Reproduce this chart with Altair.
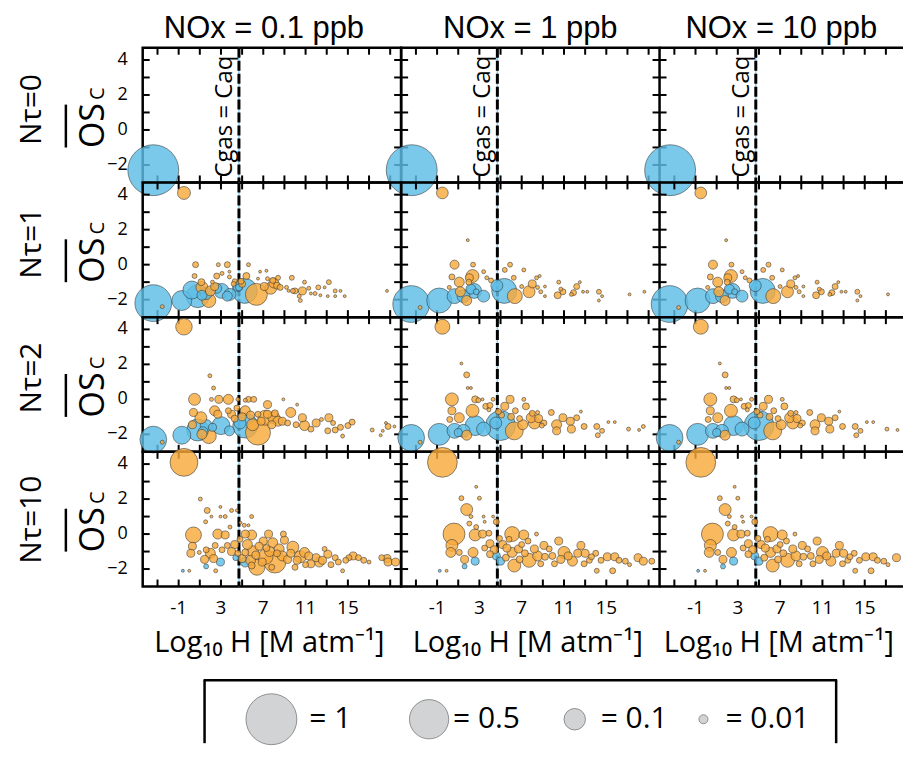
import altair as alt
import pandas as pd

# ---------------- data ----------------
NOX_TITLES = ["NOx = 0.1 ppb", "NOx = 1 ppb", "NOx = 10 ppb"]
NTAU_LABELS = ["Nτ=0", "Nτ=1", "Nτ=2", "Nτ=10"]
X_TICKS = [-3, -1, 1, 3, 5, 7, 9, 11, 13, 15, 17, 19]
X_TICK_LABELS = [-1, 3, 7, 11, 15]
Y_TICKS = [-2, -1, 0, 1, 2, 3, 4]
Y_TICK_LABELS = [-2, 0, 2, 4]
CGAS_EQ_CAQ = [4.7]
LEGEND_VALUES = [1, 0.5, 0.1, 0.01]
LEGEND_LABELS = ["= 1", "= 0.5", "= 0.1", "= 0.01"]
X_TITLE = "Log₁₀ H [M atm⁻¹]"

# (log10 H, OSc, carbon fraction)
R1_BLUE = [(-3.4, -2.3, 1.0)]
R1_ORANGE = []

R2A_BLUE = [(-3.4, -2.2, 0.42), (-0.7, -2.05, 0.082), (0.8, -1.8, 0.12), (0.25, -1.45, 0.062),
            (1.6, -1.65, 0.021), (1.2, -1.75, 0.013), (3.05, -1.5, 0.038), (3.85, -1.7, 0.021),
            (3.6, -1.8, 0.013), (4.6, -1.25, 0.013), (4.7, -1.3, 0.005), (5.25, -1.5, 0.15),
            (2.6, -1.35, 0.013)]
R2A_ORANGE = [(-0.5, 4.1, 0.026), (-2.55, -2.4, 0.0011), (1.85, -2.05, 0.032), (1.2, -1.3, 0.021),
              (2.0, -1.5, 0.013), (2.4, -1.25, 0.0072), (1.15, -1.0, 0.005), (0.5, -0.65, 0.002),
              (0.6, 0.0, 0.0033), (2.75, 0.0, 0.0011), (3.6, 0.0, 0.0033), (3.8, -0.4, 0.0005),
              (3.1, -0.5, 0.0011), (2.6, -0.65, 0.0033), (2.2, -1.0, 0.0011), (3.8, -0.7, 0.0011),
              (4.3, -0.95, 0.002), (4.9, -0.95, 0.0033), (5.0, -1.1, 0.005), (4.2, -1.1, 0.002),
              (5.6, 0.0, 0.0011), (5.4, -0.65, 0.005), (6.35, -1.7, 0.106), (6.7, -0.4, 0.0005),
              (7.3, -0.35, 0.0005), (6.5, -0.8, 0.0005), (7.4, -0.8, 0.0011), (7.9, -0.9, 0.0033),
              (8.4, -0.75, 0.002), (8.0, -1.05, 0.013), (7.7, -1.35, 0.021), (7.1, -1.25, 0.0072),
              (8.3, -1.2, 0.005), (8.6, -1.3, 0.0033), (9.2, -1.3, 0.0011), (9.7, -0.75, 0.002),
              (9.4, -1.5, 0.0005), (9.8, -1.5, 0.002), (10.0, -1.5, 0.0033), (10.7, -1.5, 0.0072),
              (10.9, -1.0, 0.0011), (10.4, -1.8, 0.0011), (10.5, -2.05, 0.0011), (11.3, -1.35, 0.0011),
              (11.5, -1.65, 0.0005), (11.9, -1.65, 0.0011), (12.2, -1.3, 0.002), (12.4, -1.75, 0.0005),
              (12.8, -1.3, 0.0005), (13.1, -1.8, 0.0005), (13.2, -1.0, 0.002), (13.8, -1.5, 0.0011),
              (13.8, -1.8, 0.0005), (14.3, -1.5, 0.0005), (14.7, -1.8, 0.0005), (18.7, -1.5, 0.0005)]

R2B_BLUE = [(-3.45, -2.25, 0.42), (-0.8, -2.05, 0.15), (0.65, -1.8, 0.038), (1.5, -1.8, 0.026),
            (2.5, -1.5, 0.038), (2.2, -1.4, 0.013), (3.4, -1.8, 0.021), (2.7, -1.55, 0.0033),
            (4.65, -1.2, 0.021), (5.35, -1.5, 0.15)]
R2B_ORANGE = [(-0.5, 4.1, 0.02), (-2.6, -2.45, 0.0011), (1.8, -2.05, 0.013), (0.65, 0.0, 0.01),
              (1.9, 1.4, 0.0005), (0.4, -0.7, 0.0033), (1.1, -1.0, 0.013), (0.15, -1.3, 0.0011),
              (1.2, -1.55, 0.013), (2.4, 0.0, 0.002), (2.35, -0.65, 0.026), (2.05, -0.75, 0.0072),
              (2.0, -1.0, 0.0033), (3.4, -0.4, 0.0011), (3.7, -0.75, 0.0011), (4.1, -0.9, 0.002),
              (5.4, -0.3, 0.002), (5.9, 0.0, 0.002), (6.25, -0.75, 0.002), (6.35, -1.8, 0.038),
              (7.2, -0.3, 0.0011), (7.0, -1.25, 0.0011), (7.7, -1.55, 0.021), (8.0, -1.1, 0.0072),
              (8.4, -0.75, 0.0011), (8.7, -0.65, 0.0005), (8.5, -1.3, 0.0011), (8.8, -1.55, 0.0011),
              (9.2, -1.8, 0.0005), (9.2, -1.25, 0.0005), (10.5, -1.0, 0.0011), (10.7, -1.4, 0.0011),
              (10.9, -1.55, 0.0033), (10.4, -1.75, 0.005), (11.7, -1.7, 0.0011), (11.9, -1.6, 0.0033),
              (12.2, -1.25, 0.0033), (12.5, -1.0, 0.0005), (12.8, -1.55, 0.0005), (13.2, -1.55, 0.0005),
              (14.3, -1.55, 0.002), (14.6, -1.8, 0.0005), (14.3, -2.05, 0.0005), (17.2, -1.7, 0.0005),
              (18.6, -1.55, 0.0005)]

R3A_BLUE = [(-3.4, -2.3, 0.18), (-0.7, -2.05, 0.062), (0.8, -1.75, 0.106), (1.3, -1.85, 0.013),
            (1.6, -1.5, 0.021), (3.0, -1.5, 0.062), (3.8, -1.8, 0.013), (4.8, -1.35, 0.021),
            (5.3, -1.5, 0.15), (2.2, -1.6, 0.0072)]
R3A_ORANGE = [(-0.5, 4.15, 0.05), (-2.55, -2.45, 0.0011), (1.85, -2.1, 0.038), (1.2, -2.0, 0.013),
              (0.5, 0.0, 0.021), (1.95, 1.35, 0.0011), (2.3, 0.65, 0.0011), (0.4, -0.75, 0.0072),
              (1.1, -1.05, 0.021), (0.3, -1.45, 0.0072), (2.1, 0.0, 0.0011), (2.8, 0.0, 0.0072),
              (3.7, 0.0, 0.013), (4.6, 0.0, 0.0011), (5.3, -0.05, 0.0011), (5.6, 0.0, 0.0033),
              (6.1, 0.0, 0.0033), (7.4, -0.3, 0.0072), (8.9, 0.0, 0.0005), (10.2, -0.3, 0.0005),
              (2.4, -0.65, 0.013), (2.7, -0.85, 0.0072), (3.7, -0.65, 0.0033), (4.0, -0.85, 0.0072),
              (4.3, -1.1, 0.005), (4.5, -0.5, 0.0033), (5.3, -0.65, 0.013), (5.0, -1.0, 0.0072),
              (5.8, -0.9, 0.0072), (6.5, -0.85, 0.0033), (6.0, -1.45, 0.021), (6.5, -1.9, 0.15),
              (7.2, -1.05, 0.038), (6.8, -1.25, 0.0072), (7.4, -0.85, 0.0072), (7.8, -1.45, 0.0072),
              (8.0, -1.05, 0.021), (8.4, -1.25, 0.013), (8.1, -0.8, 0.005), (8.8, -1.25, 0.0072),
              (9.3, -1.35, 0.0033), (9.6, -0.75, 0.013), (10.1, -1.45, 0.0033), (10.7, -1.05, 0.0072),
              (10.9, -1.5, 0.013), (11.5, -1.7, 0.0033), (12.0, -1.35, 0.0072), (12.5, -1.15, 0.0011),
              (13.2, -1.05, 0.0072), (13.6, -1.35, 0.002), (13.1, -1.8, 0.0033), (13.8, -1.75, 0.0033),
              (14.3, -1.6, 0.0033), (14.5, -2.1, 0.0011), (15.0, -1.5, 0.0033), (15.4, -1.3, 0.0033),
              (17.3, -1.75, 0.0011), (18.1, -2.05, 0.0005), (18.3, -1.8, 0.0005), (18.6, -1.35, 0.0005),
              (18.8, -1.55, 0.0033), (19.4, -1.55, 0.0005)]

R3B_BLUE = [(-3.45, -2.2, 0.18), (-0.8, -2.0, 0.106), (0.65, -1.8, 0.038), (1.5, -1.8, 0.026),
            (2.6, -1.5, 0.082), (3.4, -1.7, 0.032), (4.55, -1.35, 0.021), (5.0, -1.5, 0.24),
            (1.0, -1.9, 0.0072)]
R3B_ORANGE = [(-0.5, 4.15, 0.038), (-2.6, -2.45, 0.0011), (1.8, -2.05, 0.013), (0.4, 0.0, 0.026),
              (0.4, -0.65, 0.0072), (1.1, -1.05, 0.013), (0.2, -1.15, 0.0033), (1.3, 2.05, 0.0005),
              (1.8, 1.4, 0.0033), (1.9, 0.65, 0.0005), (2.2, 0.65, 0.0005), (2.35, -0.65, 0.026),
              (2.6, 0.0, 0.005), (2.9, -0.05, 0.002), (3.6, -0.4, 0.0033), (3.3, 0.0, 0.0005),
              (3.9, -0.6, 0.0011), (4.3, 0.0, 0.0011), (4.0, -0.35, 0.0033), (5.4, -0.4, 0.0072),
              (5.9, 0.0, 0.0072), (6.4, -0.65, 0.0033), (6.3, -1.8, 0.062), (7.1, -1.45, 0.013),
              (7.2, 0.0, 0.0011), (7.4, -0.4, 0.005), (7.9, -1.05, 0.013), (8.2, -1.35, 0.021),
              (8.5, -0.75, 0.0011), (8.0, -0.8, 0.0033), (8.6, -1.1, 0.0072), (9.1, -1.35, 0.0033),
              (9.8, -0.75, 0.0033), (10.3, -1.45, 0.013), (10.9, -1.05, 0.0072), (10.3, -1.8, 0.0072),
              (11.6, -1.25, 0.0072), (11.7, -1.7, 0.0072), (12.2, -1.05, 0.0033), (12.6, -0.7, 0.0005),
              (12.9, -1.55, 0.0033), (14.1, -1.55, 0.0033), (14.2, -2.05, 0.002), (14.6, -1.8, 0.002),
              (15.2, -1.3, 0.0005), (15.8, -1.3, 0.0005), (17.1, -1.7, 0.0011), (18.1, -1.75, 0.0005),
              (18.5, -1.55, 0.0011), (6.0, -1.0, 0.005), (5.1, -0.9, 0.0033), (4.8, -0.7, 0.0033),
              (6.8, -1.1, 0.0033), (8.9, -1.5, 0.002)]

R4A_BLUE = [(2.95, -1.6, 0.0072), (1.6, -1.85, 0.002), (-0.6, -2.1, 0.0005), (4.4, -1.35, 0.0033),
            (5.3, -1.6, 0.013)]
R4A_ORANGE = [(-0.5, 4.1, 0.2), (0.0, -2.1, 0.0005), (2.5, -2.1, 0.0011), (0.4, -0.05, 0.045),
              (1.05, 2.0, 0.0011), (1.7, 1.35, 0.0033), (2.95, 1.55, 0.0005), (1.55, 0.7, 0.0011),
              (2.1, 1.0, 0.0005), (2.95, 1.0, 0.0005), (3.4, 1.0, 0.0011), (4.0, 1.35, 0.0011),
              (4.5, 1.35, 0.0005), (4.85, 0.65, 0.0005), (5.2, 0.5, 0.0011), (5.6, 0.5, 0.0005),
              (5.9, 1.0, 0.0011), (0.3, -0.7, 0.0072), (0.15, -1.1, 0.0072), (0.95, -1.05, 0.0011),
              (1.45, -1.45, 0.0072), (2.0, -1.1, 0.013), (2.45, -0.65, 0.0033), (2.7, 0.0, 0.013),
              (3.4, -0.05, 0.0072), (3.85, 0.4, 0.0011), (5.3, 0.0, 0.0072), (5.9, -0.05, 0.013),
              (7.5, 0.0, 0.0072), (8.9, 0.0, 0.0033), (7.0, -0.4, 0.0072), (7.9, -0.5, 0.013),
              (8.5, -0.85, 0.013), (9.8, -0.75, 0.021), (10.9, -1.05, 0.013), (10.2, -1.5, 0.0072),
              (11.5, -1.7, 0.0072), (12.0, -1.35, 0.0072), (12.8, -0.85, 0.002), (13.1, -1.15, 0.0072),
              (12.6, -1.5, 0.0072), (13.8, -1.35, 0.0033), (14.1, -1.6, 0.0033), (13.4, -1.75, 0.0033),
              (14.5, -2.1, 0.0011), (15.1, -1.35, 0.0033), (15.5, -1.25, 0.0072), (16.0, -1.35, 0.0033),
              (17.0, -1.6, 0.0011), (18.2, -1.35, 0.0033), (18.7, -1.4, 0.0072), (18.8, -1.6, 0.0072),
              (19.5, -1.6, 0.0072), (6.4, -1.9, 0.045), (8.1, -1.6, 0.106), (7.2, -1.3, 0.04),
              (6.0, -1.0, 0.02), (5.5, -0.6, 0.013), (6.6, -0.7, 0.0072), (7.6, -1.0, 0.013),
              (8.8, -1.25, 0.013), (9.3, -1.45, 0.0072), (9.0, -0.35, 0.0072), (10.5, -1.3, 0.021),
              (11.3, -1.25, 0.0072), (12.3, -1.6, 0.013), (11.0, -1.75, 0.0033), (4.3, -0.6, 0.0072),
              (4.0, -1.0, 0.0072), (3.6, -0.65, 0.0033), (4.8, -0.3, 0.0033), (5.0, -1.4, 0.0072),
              (5.8, -1.5, 0.013), (6.9, -1.6, 0.0072), (7.8, -1.9, 0.0033), (9.6, -1.1, 0.0072),
              (3.1, -0.9, 0.0033), (2.3, -1.4, 0.0072), (1.6, -0.9, 0.0033), (5.3, -1.05, 0.005),
              (6.3, -1.2, 0.0072), (7.3, -0.8, 0.005), (8.3, -1.1, 0.005), (4.6, -1.1, 0.0033),
              (5.9, -1.8, 0.005), (10.0, -1.9, 0.0033), (14.8, -1.5, 0.0033), (16.5, -1.5, 0.0033)]

R4B_BLUE = [(1.6, -1.85, 0.002), (2.6, -1.55, 0.0072), (-0.75, -2.1, 0.0005), (4.6, -1.25, 0.0072),
            (5.0, -1.55, 0.0072)]
R4B_ORANGE = [(-0.5, 4.1, 0.24), (-0.1, -2.1, 0.0005), (0.6, 0.0, 0.106), (1.8, 1.4, 0.021),
              (1.3, 2.05, 0.002), (2.7, 2.7, 0.0005), (3.0, 2.05, 0.0011), (2.2, 1.0, 0.0011),
              (2.05, 0.6, 0.002), (2.7, 0.4, 0.002), (3.4, 1.0, 0.0005), (3.5, 0.7, 0.0005),
              (4.3, 1.0, 0.0005), (4.6, 0.7, 0.0033), (0.4, -0.65, 0.021), (0.3, -1.05, 0.013),
              (1.1, -1.05, 0.0033), (1.6, -1.45, 0.0072), (2.4, -1.05, 0.013), (2.6, -0.05, 0.021),
              (3.3, 0.0, 0.0072), (3.9, 0.05, 0.0033), (4.0, -0.55, 0.0072), (4.4, -0.9, 0.0072),
              (4.0, -1.15, 0.005), (6.1, 0.0, 0.038), (6.3, -1.8, 0.026), (7.2, -0.05, 0.013),
              (7.7, -1.5, 0.032), (8.4, 0.0, 0.0011), (5.2, -0.6, 0.0072), (5.6, -0.8, 0.0072),
              (6.1, -1.05, 0.013), (6.7, -0.85, 0.0072), (7.0, -0.6, 0.0033), (7.6, -0.4, 0.0033),
              (8.2, -0.85, 0.0072), (8.5, -1.25, 0.013), (9.1, -0.65, 0.0072), (9.6, -0.85, 0.0033),
              (10.5, -0.4, 0.0072), (11.0, -1.05, 0.021), (10.7, -1.45, 0.0072), (11.4, -1.25, 0.0072),
              (11.8, -1.55, 0.013), (12.3, -1.1, 0.0072), (12.6, -0.65, 0.0072), (13.0, -1.1, 0.0072),
              (13.4, -1.5, 0.0033), (14.0, -1.1, 0.0033), (14.1, -2.1, 0.002), (14.5, -1.5, 0.0033),
              (15.1, -1.3, 0.0072), (15.8, -1.3, 0.0072), (15.6, -2.1, 0.0033), (16.8, -1.55, 0.0033),
              (17.2, -1.75, 0.0011), (18.0, -1.35, 0.0072), (18.5, -1.55, 0.0072), (19.3, -1.55, 0.0033),
              (5.5, -1.35, 0.005), (6.8, -1.45, 0.005), (7.3, -1.1, 0.005), (9.2, -1.3, 0.005),
              (9.9, -1.25, 0.005), (10.1, -1.7, 0.0033), (12.9, -1.7, 0.0033), (13.6, -1.3, 0.0033),
              (4.9, -0.25, 0.0033), (5.8, -0.3, 0.0033), (3.5, -0.8, 0.0033), (8.8, -1.7, 0.0033),
              (16.2, -1.5, 0.0033)]

# panel data per row: (column 1, columns 2 and 3)
PANEL_DATA = [
    ((R1_BLUE, R1_ORANGE), (R1_BLUE, R1_ORANGE)),
    ((R2A_BLUE, R2A_ORANGE), (R2B_BLUE, R2B_ORANGE)),
    ((R3A_BLUE, R3A_ORANGE), (R3B_BLUE, R3B_ORANGE)),
    ((R4A_BLUE, R4A_ORANGE), (R4B_BLUE, R4B_ORANGE)),
]

# ---------------- layout / style ----------------
FONT = "Open Sans"
TITLE_FONT = "Liberation Sans"
BLUE = "#5DBDE6"
ORANGE = "#F8A93C"
PX_PER_X = 10.6
X_MIN = -4.4
Y_DOMAIN = [-3.0, 4.7]
PANEL_W = [259, 259, 244]
PANEL_H = 135
LABEL_W = 133
TICK_LEN = 7
NTAU_Y = [62, 61, 61, 68]
TITLE_DX = [-8, 0, 0]
SIZE_SCALE = alt.Scale(type="pow", exponent=0.75, domain=[0, 1], range=[0, 2601])
NO_STROKE = alt.ViewBackground(stroke="transparent")
Y_SCALE = alt.Scale(domain=Y_DOMAIN, nice=False, zero=False)


def one_row():
    return pd.DataFrame({"k": [0]})


def make_panel(r, c):
    w = PANEL_W[c]
    xmax = X_MIN + w / PX_PER_X
    xs = alt.Scale(domain=[X_MIN, xmax], nice=False, zero=False)
    ys = Y_SCALE
    blue, orange = PANEL_DATA[r][0 if c == 0 else 1]
    rows = [dict(h=a, os=b, v=s, phase="gas") for a, b, s in blue]
    rows += [dict(h=a, os=b, v=s, phase="aqueous") for a, b, s in orange]
    df = pd.DataFrame(rows)
    if c == 2:
        df = df[df["h"] <= xmax - 0.35]

    def X(field):
        return alt.X(field, scale=xs, axis=None)

    def Y(field):
        return alt.Y(field, scale=ys, axis=None)

    layers = []
    line_df = pd.DataFrame({"hline": CGAS_EQ_CAQ})
    layers.append(alt.Chart(line_df).mark_rule(color="#8fd3f2", strokeWidth=1.5).encode(x=X("hline:Q")))
    layers.append(alt.Chart(line_df).mark_rule(color="black", strokeWidth=3, strokeDash=[10, 3])
                  .encode(x=X("hline:Q")))
    if r == 0:
        txt_df = pd.DataFrame({"hline": CGAS_EQ_CAQ, "t": ["Cgas = Caq"]})
        layers.append(alt.Chart(txt_df).mark_text(angle=270, fontSize=24, dy=-7, align="center",
                                                  baseline="alphabetic", color="black")
                      .encode(x=X("hline:Q"), y=alt.value(69), text="t:N"))

    xt = pd.DataFrame({"xtick": [t for t in X_TICKS if X_MIN < t < xmax]})
    yt = pd.DataFrame({"ytick": Y_TICKS})
    tk = dict(color="black", strokeWidth=2)
    layers.append(alt.Chart(xt).mark_rule(**tk).encode(
        x=X("xtick:Q"), y=alt.value(PANEL_H), y2=alt.value(PANEL_H - TICK_LEN)))
    layers.append(alt.Chart(xt).mark_rule(**tk).encode(
        x=X("xtick:Q"), y=alt.value(0), y2=alt.value(TICK_LEN)))
    layers.append(alt.Chart(yt).mark_rule(**tk).encode(
        y=Y("ytick:Q"), x=alt.value(0), x2=alt.value(TICK_LEN)))
    if c < 2:
        layers.append(alt.Chart(yt).mark_rule(**tk).encode(
            y=Y("ytick:Q"), x=alt.value(w), x2=alt.value(w - TICK_LEN)))
    else:
        fr = dict(color="black", strokeWidth=2.5)
        layers.append(alt.Chart(one_row()).mark_rule(**fr).encode(
            x=alt.value(0), x2=alt.value(w), y=alt.value(0)))
        layers.append(alt.Chart(one_row()).mark_rule(**fr).encode(
            x=alt.value(0), x2=alt.value(w), y=alt.value(PANEL_H)))

    if r == 3:
        xl = pd.DataFrame({"xlab": X_TICK_LABELS, "t": [str(v) for v in X_TICK_LABELS]})
        layers.append(alt.Chart(xl).mark_text(align="center", baseline="alphabetic", fontSize=19,
                                              color="black")
                      .encode(x=X("xlab:Q"), y=alt.value(PANEL_H + 28), text="t:N"))
        tl = pd.DataFrame({"t": [X_TITLE]})
        layers.append(alt.Chart(tl).mark_text(align="center", baseline="alphabetic", fontSize=29,
                                              color="black")
                      .encode(x=alt.value(w / 2 - 2.5), y=alt.value(PANEL_H + 66), text="t:N"))

    pts = alt.Chart(df).mark_circle(opacity=1, fillOpacity=0.82, stroke="#333333",
                                    strokeWidth=0.7, strokeOpacity=0.8).encode(
        x=X("h:Q"),
        y=Y("os:Q"),
        color=alt.Color("phase:N", scale=alt.Scale(domain=["gas", "aqueous"], range=[BLUE, ORANGE]),
                        legend=None),
        size=alt.Size("v:Q", scale=SIZE_SCALE, legend=None),
        order=alt.Order("v:Q", sort="descending"),
    )
    layers.append(pts)

    props = dict(width=w, height=PANEL_H)
    if c == 2:
        props["view"] = NO_STROKE
    if r == 0:
        props["title"] = alt.TitleParams(NOX_TITLES[c], fontSize=31, fontWeight="normal",
                                         color="black", offset=1, anchor="middle", font=TITLE_FONT,
                                         dx=TITLE_DX[c])
    return alt.layer(*layers).properties(**props)


def make_label(r):
    ntau = alt.Chart(pd.DataFrame({"t": [NTAU_LABELS[r]]})).mark_text(
        angle=270, fontSize=30, align="center", baseline="alphabetic", color="black").encode(
        text="t:N", x=alt.value(31), y=alt.value(NTAU_Y[r]))
    os_ = alt.Chart(pd.DataFrame({"t": ["OS"]})).mark_text(
        angle=270, fontSize=34, align="center", baseline="alphabetic", color="black").encode(
        text="t:N", x=alt.value(94), y=alt.value(78))
    sub = alt.Chart(pd.DataFrame({"t": ["C"]})).mark_text(
        angle=270, fontSize=20, align="center", baseline="alphabetic", color="black").encode(
        text="t:N", x=alt.value(94), y=alt.value(46))
    bar = alt.Chart(one_row()).mark_rule(color="black", strokeWidth=2.5).encode(
        x=alt.value(56), y=alt.value(57), y2=alt.value(100))
    # y tick labels of the first panel column, placed through the same y scale
    yl = pd.DataFrame({"ylab": Y_TICK_LABELS,
                       "t": [str(v).replace("-", "−") for v in Y_TICK_LABELS]})
    ylab = alt.Chart(yl).mark_text(align="right", baseline="middle", fontSize=18, color="black").encode(
        y=alt.Y("ylab:Q", scale=Y_SCALE, axis=None), x=alt.value(LABEL_W - 15), text="t:N")
    return alt.layer(ntau, os_, sub, bar, ylab).properties(width=LABEL_W, height=PANEL_H, view=NO_STROKE)


LEG_H = 157
BOX_L, BOX_R, BOX_T = 195, 828, 94
LEG_CY = 133
LEG_CIRCLE_X = [262, 420, 566, 695]
LEG_TEXT_X = [300, 444, 592, 717]


def make_legend():
    fr = dict(color="black", strokeWidth=2.5)
    layers = [
        alt.Chart(one_row()).mark_rule(**fr).encode(x=alt.value(BOX_L - 1), x2=alt.value(BOX_R + 1), y=alt.value(BOX_T)),
        alt.Chart(one_row()).mark_rule(**fr).encode(x=alt.value(BOX_L), y=alt.value(BOX_T), y2=alt.value(LEG_H)),
        alt.Chart(one_row()).mark_rule(**fr).encode(x=alt.value(BOX_R), y=alt.value(BOX_T), y2=alt.value(LEG_H)),
    ]
    for val, lab, cx, tx in zip(LEGEND_VALUES, LEGEND_LABELS, LEG_CIRCLE_X, LEG_TEXT_X):
        d = pd.DataFrame({"v": [val], "t": [lab]})
        layers.append(alt.Chart(d).mark_circle(fill="#d1d3d4", stroke="#7a7a7a", strokeWidth=0.8,
                                               opacity=1).encode(
            x=alt.value(cx), y=alt.value(LEG_CY), size=alt.Size("v:Q", scale=SIZE_SCALE, legend=None)))
        layers.append(alt.Chart(d).mark_text(align="left", baseline="middle", fontSize=30,
                                             color="black").encode(
            x=alt.value(tx), y=alt.value(LEG_CY), text="t:N"))
    # the legend sits in the first grid column; its marks extend across the full width
    return alt.layer(*layers).properties(width=LABEL_W, height=LEG_H, view=NO_STROKE)


items = []
for r in range(4):
    items.append(make_label(r))
    items += [make_panel(r, c) for c in range(3)]
items.append(make_legend())

chart = alt.concat(*items, columns=4, spacing=0, bounds="flush").properties(
    padding={"top": 3, "left": 0, "right": 0, "bottom": 0}
).configure(font=FONT).configure_view(stroke="black", strokeWidth=2.5)

chart.save("out.html", embed_options={"renderer": "svg", "actions": False})
